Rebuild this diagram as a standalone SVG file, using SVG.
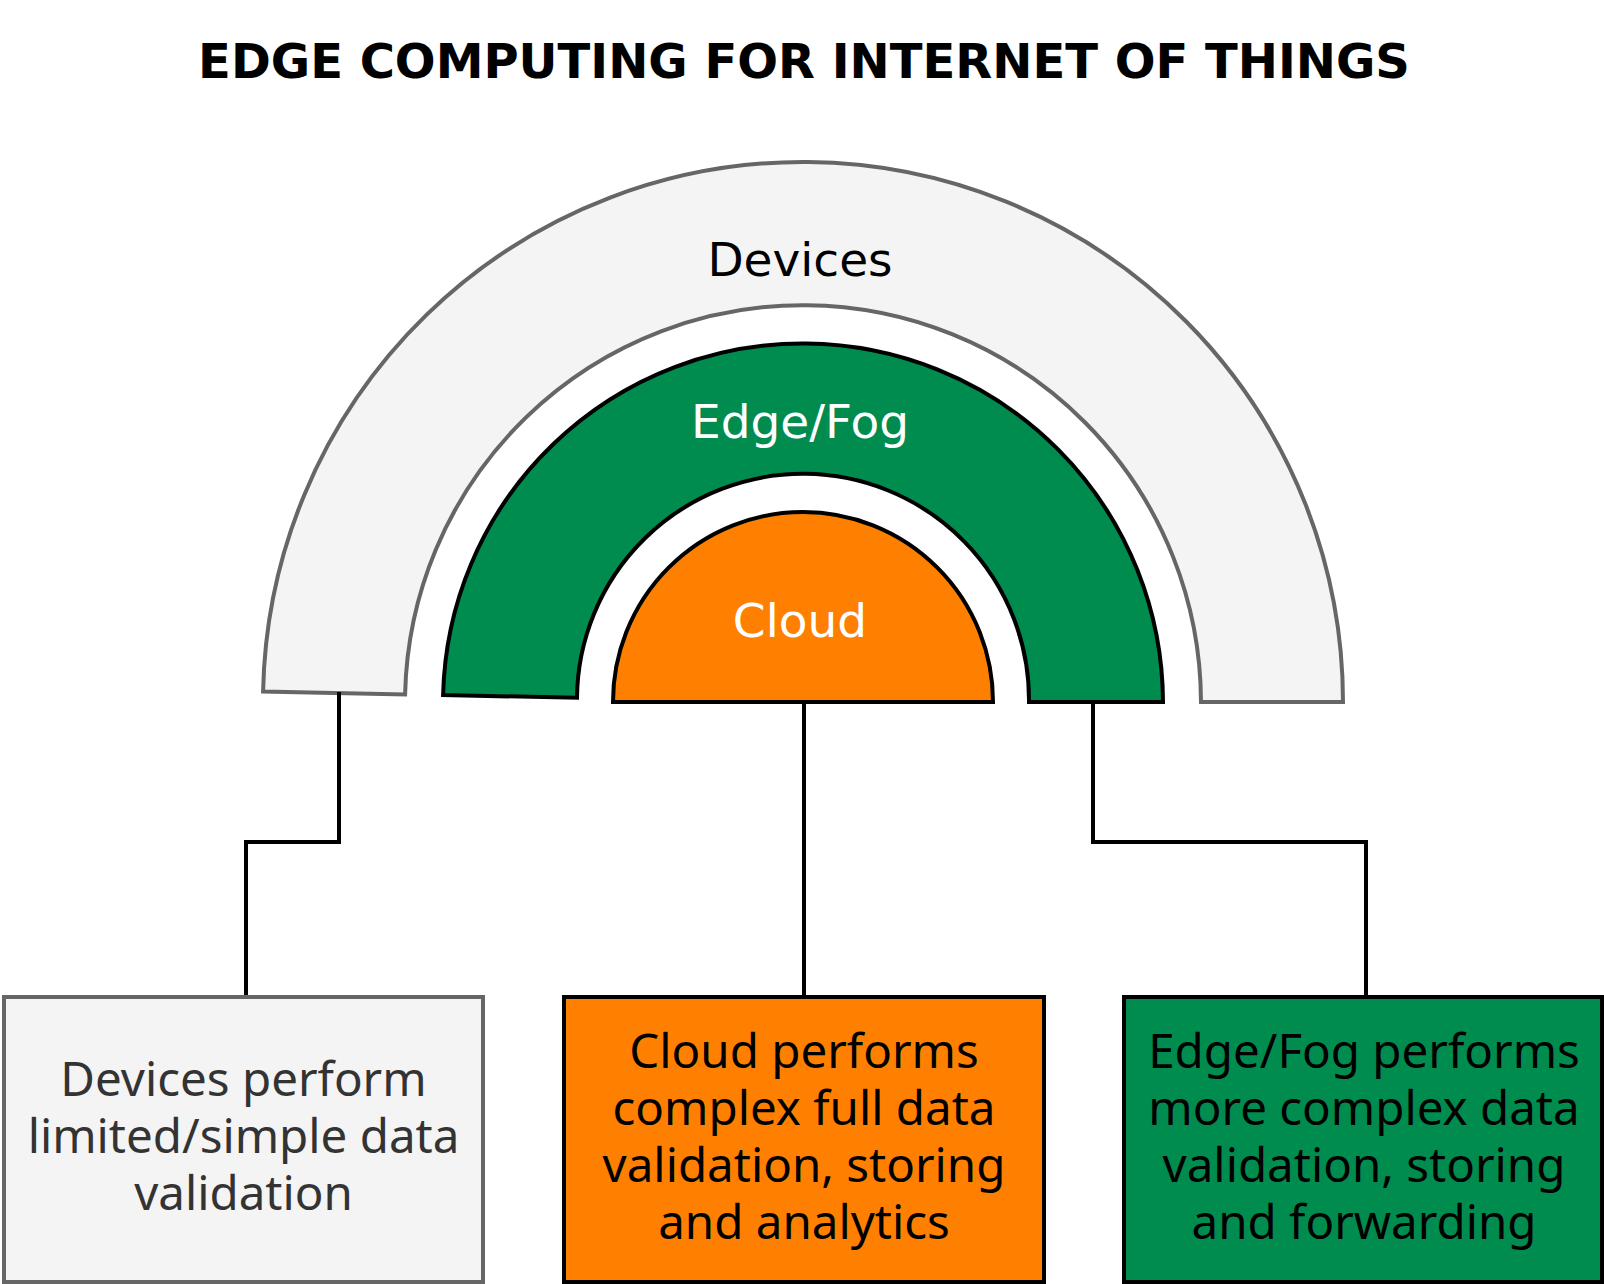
<svg xmlns="http://www.w3.org/2000/svg" width="1604" height="1284" viewBox="0 0 1604 1284">
<style>
.title{font-family:"DejaVu Sans",sans-serif;font-weight:bold;font-size:48px;fill:#000;text-anchor:middle}
.lbl{font-family:"DejaVu Sans",sans-serif;font-size:47px;text-anchor:middle}
.box{font-family:"Noto Sans","Open Sans",sans-serif;font-size:47.5px;text-anchor:middle}
.conn{fill:none;stroke:#000;stroke-width:4}
</style>
<rect width="1604" height="1284" fill="#ffffff"/>
<text class="title" x="804" y="78">EDGE COMPUTING FOR INTERNET OF THINGS</text>
<g id="devices-ring">
<path d="M 1343 702 A 540 540 0 0 0 263.1 691.6 L 405.1 694.4 A 398 398 0 0 1 1201 702 Z" fill="#f4f4f4" stroke="#666666" stroke-width="4"/>
<text class="lbl" x="800" y="276" fill="#000000">Devices</text>
</g>
<g id="edge-ring">
<path d="M 1163 702 A 360 360 0 0 0 443.1 695.1 L 577 697.7 A 226 226 0 0 1 1029 702 Z" fill="#008c4f" stroke="#000000" stroke-width="4"/>
<text class="lbl" x="800" y="438" fill="#ffffff">Edge/Fog</text>
</g>
<g id="cloud">
<path d="M 993 702 A 190 190 0 0 0 613 702 Z" fill="#ff8000" stroke="#000000" stroke-width="4"/>
<text class="lbl" x="800" y="637" fill="#ffffff">Cloud</text>
</g>
<g id="connectors">
<path class="conn" d="M 339 692 V 842 H 246 V 997"/>
<path class="conn" d="M 804 702 V 997"/>
<path class="conn" d="M 1093 702 V 842 H 1366 V 997"/>
</g>
<g id="devices-box">
<rect x="4" y="997" width="479" height="285" fill="#f4f4f4" stroke="#666666" stroke-width="4"/>
<text class="box" fill="#333333"><tspan x="243.5" y="1096">Devices perform</tspan><tspan x="243.5" y="1153">limited/simple data</tspan><tspan x="243.5" y="1210">validation</tspan></text>
</g>
<g id="cloud-box">
<rect x="564" y="997" width="480" height="285" fill="#ff8000" stroke="#000000" stroke-width="4"/>
<text class="box" fill="#000000"><tspan x="804" y="1068">Cloud performs</tspan><tspan x="804" y="1125">complex full data</tspan><tspan x="804" y="1182">validation, storing</tspan><tspan x="804" y="1239">and analytics</tspan></text>
</g>
<g id="edge-box">
<rect x="1124" y="997" width="478" height="285" fill="#008c4f" stroke="#000000" stroke-width="4"/>
<text class="box" fill="#000000"><tspan x="1364" y="1068">Edge/Fog performs</tspan><tspan x="1364" y="1125">more complex data</tspan><tspan x="1364" y="1182">validation, storing</tspan><tspan x="1364" y="1239">and forwarding</tspan></text>
</g>
</svg>
